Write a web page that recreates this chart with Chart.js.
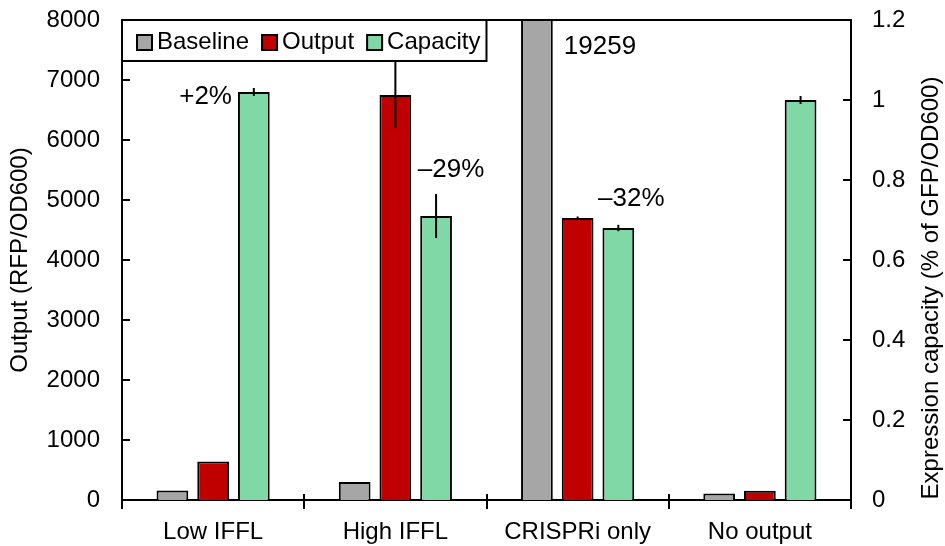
<!DOCTYPE html>
<html><head><meta charset="utf-8">
<script src="https://cdn.jsdelivr.net/npm/chart.js@4/dist/chart.umd.min.js"></script>
<style>html,body{margin:0;padding:0;background:#fff;}#wrap{width:945px;height:546px;}</style>
</head><body><div id="wrap"><canvas id="c" width="945" height="546"></canvas></div>
<script>
const categories = ['Low IFFL', 'High IFFL', 'CRISPRi only', 'No output'];
const seriesNames = ['Baseline', 'Output', 'Capacity'];
const baselineValues = [160, 300, 19259, 110];
const outputValues = [640, 6750, 4700, 155];
const capacityValues = [1.02, 0.71, 0.68, 1.00];
const baselineErrors = [0, 0, 0, 0];
const outputErrors = [0, 550, 25, 0];
const capacityErrors = [0.01, 0.055, 0.008, 0.01];
const leftTicks = [0, 1000, 2000, 3000, 4000, 5000, 6000, 7000, 8000];
const leftTickLabels = ['0', '1000', '2000', '3000', '4000', '5000', '6000', '7000', '8000'];
const rightTicks = [0, 0.2, 0.4, 0.6, 0.8, 1, 1.2];
const rightTickLabels = ['0', '0.2', '0.4', '0.6', '0.8', '1', '1.2'];
const annotationCategories = [0, 1, 2];
const annotationTexts = ['+2%', '\u201329%', '\u201332%'];
const leftTitle = 'Output (RFP/OD600)';
const rightTitle = 'Expression capacity (% of GFP/OD600)';

const F = '"Liberation Sans", Arial, Helvetica, sans-serif';
const colors = ['#a6a6a6', '#c00000', '#80d8a6'];

const deco = {
  id: 'deco',
  afterDatasetsDraw(chart) {
    const ctx = chart.ctx, ca = chart.chartArea;
    const xs = chart.scales.x, ys = chart.scales.y, y1s = chart.scales.y1;
    ctx.save();
    ctx.strokeStyle = '#000';
    ctx.lineWidth = 2;
    const errs = [baselineErrors, outputErrors, capacityErrors];
    chart.data.datasets.forEach((ds, di) => {
      const meta = chart.getDatasetMeta(di);
      const sc = chart.scales[ds.yAxisID];
      meta.data.forEach((bar, i) => {
        const e = errs[di][i];
        if (!e) return;
        const v = ds.data[i];
        const t = Math.max(sc.getPixelForValue(v + e), ca.top);
        const b = sc.getPixelForValue(v - e);
        ctx.beginPath(); ctx.moveTo(bar.x, t); ctx.lineTo(bar.x, b); ctx.stroke();
      });
    });
    ctx.beginPath(); ctx.moveTo(ca.left - 1, ca.top); ctx.lineTo(ca.right + 1, ca.top); ctx.stroke();
    leftTicks.forEach(v => {
      const yy = Math.round(ys.getPixelForValue(v));
      ctx.beginPath(); ctx.moveTo(ca.left, yy); ctx.lineTo(ca.left + 8, yy); ctx.stroke();
    });
    rightTicks.forEach(v => {
      const yy = Math.round(y1s.getPixelForValue(v));
      ctx.beginPath(); ctx.moveTo(ca.right, yy); ctx.lineTo(ca.right - 8, yy); ctx.stroke();
    });
    const n = categories.length;
    for (let i = 0; i <= n; i++) {
      let px;
      if (i === 0) px = ca.left;
      else if (i === n) px = ca.right;
      else px = (xs.getPixelForValue(i - 1) + xs.getPixelForValue(i)) / 2;
      px = Math.round(px);
      ctx.beginPath(); ctx.moveTo(px, ca.bottom - 6); ctx.lineTo(px, ca.bottom + 9); ctx.stroke();
    }
    ctx.fillStyle = '#000';
    ctx.font = '24px ' + F;
    ctx.textAlign = 'center';
    ctx.textBaseline = 'middle';
    const cy = (ca.top + ca.bottom) / 2;
    ctx.save(); ctx.translate(20, cy); ctx.rotate(-Math.PI / 2); ctx.fillText(leftTitle, 0, 0); ctx.restore();
    ctx.save(); ctx.translate(931, cy + 28); ctx.rotate(-Math.PI / 2); ctx.fillText(rightTitle, 0, 0); ctx.restore();
    ctx.font = '26px ' + F;
    const capMeta = chart.getDatasetMeta(2);
    annotationCategories.forEach((ci, k) => {
      const bar = capMeta.data[ci];
      if (k === 0) {
        ctx.textAlign = 'right';
        ctx.fillText(annotationTexts[k], bar.x - bar.width / 2 - 6, bar.y + 5);
      } else if (k === 1) {
        ctx.textAlign = 'center';
        ctx.fillText(annotationTexts[k], bar.x + 15, bar.y - 46);
      } else {
        ctx.textAlign = 'center';
        ctx.fillText(annotationTexts[k], bar.x + 13, bar.y - 29);
      }
    });
    const baseMeta = chart.getDatasetMeta(0);
    baselineValues.forEach((v, i) => {
      if (v > ys.max) {
        const bar = baseMeta.data[i];
        ctx.textAlign = 'left';
        ctx.fillText(String(v), bar.x + bar.width / 2 + 11, ca.top + 27);
      }
    });
    ctx.restore();
  },
  afterDraw(chart) {
    const ctx = chart.ctx, ca = chart.chartArea;
    ctx.save();
    ctx.font = '24px ' + F;
    const sq = 15, gapT = 5, gapI = 13, padL = 15, padR = 6;
    let w = padL;
    seriesNames.forEach((s, i) => {
      w += sq + gapT + ctx.measureText(s).width;
      if (i < seriesNames.length - 1) w += gapI;
    });
    w += padR;
    const top = ca.top, h = 41, left = ca.left;
    ctx.fillStyle = '#fff';
    ctx.fillRect(left, top, w, h);
    ctx.strokeStyle = '#000'; ctx.lineWidth = 2;
    ctx.strokeRect(left, top, w, h);
    let x = left + padL;
    const my = top + h / 2 + 2;
    ctx.textBaseline = 'middle'; ctx.textAlign = 'left';
    seriesNames.forEach((s, i) => {
      ctx.fillStyle = colors[i];
      ctx.fillRect(x, my - sq / 2, sq, sq);
      ctx.strokeRect(x, my - sq / 2, sq, sq);
      x += sq + gapT;
      ctx.fillStyle = '#000';
      ctx.fillText(s, x, my);
      x += ctx.measureText(s).width + gapI;
    });
    ctx.restore();
  }
};

const zeroPad = s => { s.paddingTop = 0; s.paddingBottom = 0; s.paddingLeft = 0; s.paddingRight = 0; };
const tickFont = { family: F, size: 24 };
new Chart(document.getElementById('c'), {
  type: 'bar',
  data: {
    labels: categories,
    datasets: [
      { label: seriesNames[0], data: baselineValues, yAxisID: 'y', backgroundColor: colors[0] },
      { label: seriesNames[1], data: outputValues, yAxisID: 'y', backgroundColor: colors[1] },
      { label: seriesNames[2], data: capacityValues, yAxisID: 'y1', backgroundColor: colors[2] }
    ].map(d => Object.assign(d, { borderColor: '#000', borderWidth: 2, borderSkipped: 'start', clip: 0, barPercentage: 0.78, categoryPercentage: 0.67 }))
  },
  options: {
    responsive: false,
    animation: false,
    devicePixelRatio: 1,
    layout: { padding: { top: 20, left: 0, right: 0, bottom: 0 } },
    plugins: { legend: { display: false }, tooltip: { enabled: false } },
    scales: {
      x: {
        grid: { display: false, drawTicks: false },
        border: { display: true, color: '#000', width: 2 },
        ticks: { font: tickFont, color: '#000', padding: 18 },
        afterFit: s => { s.height = 46; zeroPad(s); }
      },
      y: {
        position: 'left', min: 0, max: 8000,
        afterBuildTicks: s => { s.ticks = leftTicks.map(v => ({ value: v })); },
        grid: { display: false, drawTicks: false },
        border: { display: true, color: '#000', width: 2 },
        ticks: { font: tickFont, color: '#000', padding: 22, callback: (v, i) => leftTickLabels[i] },
        afterFit: s => { s.width = 122; zeroPad(s); }
      },
      y1: {
        position: 'right', min: 0, max: 1.2,
        afterBuildTicks: s => { s.ticks = rightTicks.map(v => ({ value: v })); },
        grid: { display: false, drawTicks: false },
        border: { display: true, color: '#000', width: 2 },
        ticks: { font: tickFont, color: '#000', padding: 21, callback: (v, i) => rightTickLabels[i] },
        afterFit: s => { s.width = 94; zeroPad(s); }
      }
    }
  },
  plugins: [deco]
});
</script></body></html>
